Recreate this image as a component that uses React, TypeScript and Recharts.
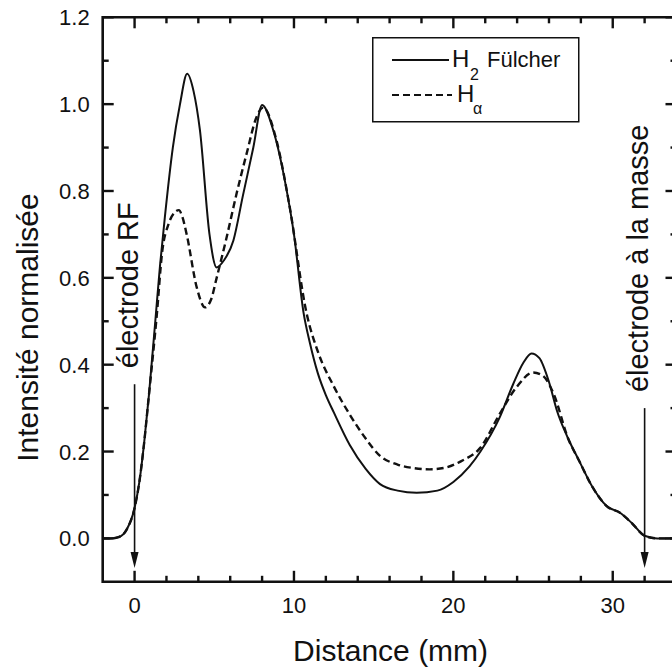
import { LineChart, Line, XAxis, YAxis, ReferenceLine, ReferenceArea } from "recharts";

// distance (mm) / normalised intensity
const fulcherX = [-2, -1.5, -1, -0.5, 0, 0.3, 0.6, 0.9, 1.3, 1.6, 1.9, 2.4, 2.85, 3.3, 3.7, 4.1, 4.7, 5.15, 5.6, 6.2, 6.8, 7.45, 8.0, 8.7, 9.5, 10.0, 10.6, 11.0, 11.5, 12.0, 12.5, 13.5, 14.5, 15.4, 16.5, 17.7, 19.0, 20.0, 21.0, 21.7, 22.9, 23.75, 24.4, 24.9, 25.4, 26.0, 26.5, 27.2, 27.9, 28.7, 29.6, 30.5, 31.2, 32.0, 32.8, 34];
const fulcherY = [0, 0, 0.003, 0.02, 0.07, 0.13, 0.22, 0.33, 0.5, 0.63, 0.74, 0.9, 1.0, 1.07, 1.03, 0.94, 0.7, 0.624, 0.64, 0.686, 0.79, 0.9, 0.998, 0.94, 0.81, 0.7, 0.52, 0.45, 0.38, 0.33, 0.29, 0.215, 0.16, 0.125, 0.11, 0.105, 0.11, 0.13, 0.165, 0.2, 0.278, 0.355, 0.405, 0.426, 0.415, 0.36, 0.294, 0.23, 0.178, 0.12, 0.075, 0.058, 0.035, 0.006, 0.0, 0];

const halphaX = [-2, -1.5, -1, -0.5, 0, 0.3, 0.6, 0.9, 1.4, 1.72, 2.14, 2.5, 2.78, 3.0, 3.27, 3.9, 4.42, 4.8, 5.15, 5.78, 6.4, 7.03, 7.66, 8.07, 8.9, 9.7, 10.8, 11.5, 12.5, 13.5, 14.5, 15.4, 16.5, 17.5, 18.5, 19.5, 20.5, 21.7, 22.9, 24.0, 25.0, 25.6, 26.3, 27.2, 27.9, 28.7, 29.6, 30.5, 31.2, 32.0, 32.8, 34];
const halphaY = [0, 0, 0.003, 0.02, 0.07, 0.13, 0.22, 0.33, 0.517, 0.656, 0.725, 0.75, 0.756, 0.74, 0.7, 0.578, 0.532, 0.55, 0.6, 0.694, 0.794, 0.886, 0.971, 0.992, 0.917, 0.77, 0.517, 0.43, 0.35, 0.285, 0.23, 0.19, 0.17, 0.162, 0.159, 0.163, 0.178, 0.209, 0.286, 0.35, 0.382, 0.375, 0.332, 0.23, 0.178, 0.12, 0.075, 0.058, 0.035, 0.006, 0.0, 0];

const xDomain = [-2, 34];
const yDomain = [-0.1, 1.2];
const xTicks = [0, 2, 4, 6, 8, 10, 12, 14, 16, 18, 20, 22, 24, 26, 28, 30, 32];
const xLabels = [0, 10, 20, 30];
const yTicks = [0, 0.1, 0.2, 0.3, 0.4, 0.5, 0.6, 0.7, 0.8, 0.9, 1.0, 1.1, 1.2];

const electrodeX = [0, 32];
const electrodeTop = [0.355, 0.3];
const electrodeLabels = ["électrode RF", "électrode à la masse"];

const fulcherData = fulcherX.map((x, i) => ({ x, v: fulcherY[i] }));
const halphaData = halphaX.map((x, i) => ({ x, v: halphaY[i] }));

const INK = "#111";
const FONT = "'Liberation Sans', Arial, Helvetica, sans-serif";
const TW = 2.4; // tick thickness
const MAJOR = 11;
const MINOR = 6;

const isMajorY = (v: number) => Math.round(v * 10) % 2 === 0;

function XLabel({ x, y, payload }: any) {
  if (!xLabels.includes(payload.value)) return <g />;
  return (
    <text x={x} y={y + 31} textAnchor="middle" fontSize={22} fill={INK} fontFamily={FONT}>
      {payload.value}
    </text>
  );
}

function YLabel({ x, y, payload }: any) {
  if (!isMajorY(payload.value)) return <g />;
  return (
    <text x={x - 13} y={y + 8} textAnchor="end" fontSize={22} fill={INK} fontFamily={FONT}>
      {payload.value.toFixed(1)}
    </text>
  );
}

// inward tick marks at both ends of a full-height / full-width reference line
function xTickShape(len: number) {
  return ({ x1, y1, y2 }: any) => {
    const top = Math.min(y1, y2);
    const bottom = Math.max(y1, y2);
    return (
      <g>
        <rect x={x1 - TW / 2} y={top} width={TW} height={len} fill={INK} />
        <rect x={x1 - TW / 2} y={bottom - len} width={TW} height={len} fill={INK} />
      </g>
    );
  };
}

function yTickShape(len: number) {
  return ({ x1, x2, y1 }: any) => {
    const left = Math.min(x1, x2);
    const right = Math.max(x1, x2);
    return (
      <g>
        <rect x={left} y={y1 - TW / 2} width={len} height={TW} fill={INK} />
        <rect x={right - len} y={y1 - TW / 2} width={len} height={TW} fill={INK} />
      </g>
    );
  };
}

function Arrow({ x1, y1, y2 }: any) {
  const top = Math.min(y1, y2);
  const tip = Math.max(y1, y2);
  return (
    <g>
      <rect x={x1 - 0.8} y={top} width={1.6} height={tip - 14 - top} fill={INK} />
      <polygon points={`${x1},${tip} ${x1 - 4},${tip - 16} ${x1 + 4},${tip - 16}`} fill={INK} />
    </g>
  );
}

function electrodeLabel(text: string) {
  return ({ viewBox }: any) => {
    const tx = viewBox.x + 3;
    const ty = viewBox.y - 16;
    return (
      <text x={tx} y={ty} transform={`rotate(-90 ${tx} ${ty})`} fontSize={29} fill={INK} fontFamily={FONT}>
        {text}
      </text>
    );
  };
}

function LegendBox() {
  return (
    <svg width={208} height={86} style={{ position: "absolute", left: 372, top: 37 }}>
      <rect x={0.75} y={0.75} width={206} height={84} fill="#fff" stroke={INK} strokeWidth={1.5} />
      <line x1={20} x2={77} y1={23} y2={23} stroke={INK} strokeWidth={2} />
      <text x={80} y={30} fontSize={24} fill={INK} fontFamily={FONT}>H</text>
      <text x={98} y={43} fontSize={16} fill={INK} fontFamily={FONT}>2</text>
      <text x={115} y={30} fontSize={22} fill={INK} fontFamily={FONT}>Fülcher</text>
      <line x1={20} x2={80} y1={58} y2={58} stroke={INK} strokeWidth={2.2} strokeDasharray="7 4" />
      <text x={85} y={65} fontSize={24} fill={INK} fontFamily={FONT}>H</text>
      <text x={101} y={77} fontSize={16} fill={INK} fontFamily={FONT}>α</text>
    </svg>
  );
}

export default function App() {
  return (
    <div style={{ position: "absolute", left: 0, top: 0, width: 672, height: 669, overflow: "hidden", background: "#fff" }}>
      <LineChart width={680} height={669} margin={{ top: 17.3, right: 3.5, bottom: 17.2, left: 12.7 }}>
        <XAxis
          dataKey="x"
          type="number"
          domain={xDomain}
          ticks={xTicks}
          interval={0}
          height={70}
          tickSize={0}
          tickMargin={0}
          tickLine={false}
          axisLine={false}
          tick={<XLabel />}
          label={{
            content: ({ viewBox }: any) => (
              <text x={viewBox.x + viewBox.width / 2 + 1} y={viewBox.y + 79} textAnchor="middle" fontSize={30} fill={INK} fontFamily={FONT}>
                Distance (mm)
              </text>
            ),
          }}
        />
        <YAxis
          type="number"
          domain={yDomain}
          ticks={yTicks}
          interval={0}
          width={90}
          tickSize={0}
          tickMargin={0}
          tickLine={false}
          axisLine={false}
          tick={<YLabel />}
          label={{
            content: ({ viewBox }: any) => {
              const tx = viewBox.x + 25;
              const ty = viewBox.y + viewBox.height / 2 + 28;
              return (
                <text x={tx} y={ty} transform={`rotate(-90 ${tx} ${ty})`} textAnchor="middle" fontSize={30} fill={INK} fontFamily={FONT}>
                  Intensité normalisée
                </text>
              );
            },
          }}
        />
        <ReferenceArea
          x1={xDomain[0]}
          x2={xDomain[1]}
          y1={yDomain[0]}
          y2={yDomain[1]}
          fill="none"
          fillOpacity={0}
          stroke={INK}
          strokeWidth={2.6}
          ifOverflow="visible"
        />
        {xTicks.map((t) => (
          <ReferenceLine key={`xt${t}`} x={t} shape={xTickShape(xLabels.includes(t) ? MAJOR : MINOR)} />
        ))}
        {yTicks.map((t) => (
          <ReferenceLine key={`yt${t}`} y={t} shape={yTickShape(isMajorY(t) ? MAJOR : MINOR)} />
        ))}
        {electrodeX.map((ex, i) => (
          <ReferenceLine
            key={`el${ex}`}
            segment={[{ x: ex, y: electrodeTop[i] }, { x: ex, y: -0.068 }]}
            shape={Arrow}
            label={{ content: electrodeLabel(electrodeLabels[i]) }}
          />
        ))}
        <Line
          data={fulcherData}
          dataKey="v"
          name="H2 Fülcher"
          type="monotone"
          stroke={INK}
          strokeWidth={2}
          dot={false}
          isAnimationActive={false}
        />
        <Line
          data={halphaData}
          dataKey="v"
          name="Hα"
          type="monotone"
          stroke={INK}
          strokeWidth={2.4}
          strokeDasharray="7 4"
          dot={false}
          isAnimationActive={false}
        />
      </LineChart>
      <LegendBox />
    </div>
  );
}
